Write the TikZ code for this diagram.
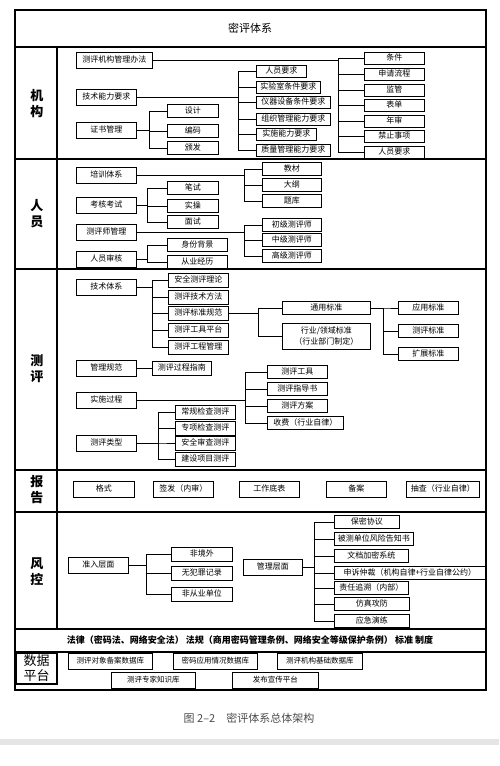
\documentclass[tikz,border=0pt]{standalone}
\usepackage{fontspec}
\setmainfont{Noto Sans CJK SC}
\tikzset{
    box/.style={draw,thick,align=center,inner sep=1pt,text height=6.5pt,text depth=1.5pt,minimum height=13,font=\fontsize{8}{10}\selectfont},
    head/.style={box,anchor=west,minimum width=60,minimum height=16},
    leaf/.style={box,anchor=west},
    side/.style={align=center,font=\fontsize{13}{16}\selectfont\bfseries},
    link/.style={thick},
    frame/.style={line width=1.2pt}
}
\begin{document}
\begin{tikzpicture}[x=1pt,y=-1pt]
    \useasboundingbox (0,0) rectangle (499,766);
    \draw[frame] (15,10) rectangle (486,690);
    \draw[frame] (15,47)--(486,47) (15,159)--(486,159) (15,269)--(486,269) (15,470)--(486,470)
        (15,512)--(486,512) (15,629)--(486,629) (15,652)--(486,652);
    \draw[frame] (57,47)--(57,629);
    \node[font=\fontsize{11}{13}\selectfont] (title) at (250,28) {密评体系};

    \node[side] (jigou) at (37,104) {机\\构};
    \node[side] (renyuan) at (37,214) {人\\员};
    \node[side] (ceping) at (37,369) {测\\评};
    \node[side] (baogao) at (37,490) {报\\告};
    \node[side] (fengkong) at (37,572) {风\\控};

    \node[head,minimum width=76] (banfa) at (76,60) {测评机构管理办法};
    \node[head] (nengli) at (76,97) {技术能力要求};
    \node[head] (zhengshu) at (76,130) {证书管理};
    \node[leaf,minimum width=51] (sheji) at (167,111) {设计};
    \node[leaf,minimum width=51] (bianma) at (167,131) {编码};
    \node[leaf,minimum width=51] (banfa2) at (167,148) {颁发};
    \node[leaf,minimum width=50,minimum height=12] (renyuanyq) at (256,71) {人员要求};
    \node[leaf,minimum width=64,minimum height=12] (shiyanshi) at (256,87) {实验室条件要求};
    \node[leaf,minimum width=74,minimum height=12] (yiqi) at (256,102) {仪器设备条件要求};
    \node[leaf,minimum width=74,minimum height=12] (zuzhi) at (256,119) {组织管理能力要求};
    \node[leaf,minimum width=60,minimum height=12] (shishi) at (256,134) {实施能力要求};
    \node[leaf,minimum width=74,minimum height=12] (zhiliang) at (256,150) {质量管理能力要求};
    \node[leaf,minimum width=60,minimum height=12] (tiaojian) at (364,58) {条件};
    \node[leaf,minimum width=60,minimum height=12] (liucheng) at (364,74) {申请流程};
    \node[leaf,minimum width=60,minimum height=12] (jianguan) at (364,90) {监管};
    \node[leaf,minimum width=60,minimum height=12] (biaodan) at (364,105) {表单};
    \node[leaf,minimum width=60,minimum height=12] (nianshen) at (364,121) {年审};
    \node[leaf,minimum width=60,minimum height=12] (jinzhi) at (364,136) {禁止事项};
    \node[leaf,minimum width=60,minimum height=12] (renyuan2) at (364,152) {人员要求};
    \draw[link] (banfa.east) -- ++(186,0) |- (tiaojian.west);
    \draw[link] (banfa.east) -- ++(186,0) |- (liucheng.west);
    \draw[link] (banfa.east) -- ++(186,0) |- (jianguan.west);
    \draw[link] (banfa.east) -- ++(186,0) |- (biaodan.west);
    \draw[link] (banfa.east) -- ++(186,0) |- (nianshen.west);
    \draw[link] (banfa.east) -- ++(186,0) |- (jinzhi.west);
    \draw[link] (banfa.east) -- ++(186,0) |- (renyuan2.west);
    \draw[link] (nengli.east) -- ++(102,0) |- (renyuanyq.west);
    \draw[link] (nengli.east) -- ++(102,0) |- (shiyanshi.west);
    \draw[link] (nengli.east) -- ++(102,0) |- (yiqi.west);
    \draw[link] (nengli.east) -- ++(102,0) |- (zuzhi.west);
    \draw[link] (nengli.east) -- ++(102,0) |- (shishi.west);
    \draw[link] (nengli.east) -- ++(102,0) |- (zhiliang.west);
    \draw[link] (zhengshu.east) -- ++(13,0) |- (sheji.west);
    \draw[link] (zhengshu.east) -- ++(13,0) |- (bianma.west);
    \draw[link] (zhengshu.east) -- ++(13,0) |- (banfa2.west);

    \node[head] (peixun) at (76,175) {培训体系};
    \node[head] (kaohe) at (76,205) {考核考试};
    \node[head] (cpsgl) at (76,232) {测评师管理};
    \node[head] (shenhe) at (76,259) {人员审核};
    \node[leaf,minimum width=59] (jiaocai) at (262,169) {教材};
    \node[leaf,minimum width=59] (dagang) at (262,185) {大纲};
    \node[leaf,minimum width=59] (tiku) at (262,201) {题库};
    \node[leaf,minimum width=51] (bishi) at (167,188) {笔试};
    \node[leaf,minimum width=51] (shicao) at (167,206) {实操};
    \node[leaf,minimum width=51] (mianshi) at (167,222) {面试};
    \node[leaf,minimum width=59] (chuji) at (262,225) {初级测评师};
    \node[leaf,minimum width=59] (zhongji) at (262,240) {中级测评师};
    \node[leaf,minimum width=59] (gaoji) at (262,256) {高级测评师};
    \node[leaf,minimum width=60] (shenfen) at (167,245) {身份背景};
    \node[leaf,minimum width=60] (jingli) at (167,262) {从业经历};
    \draw[link] (peixun.east) -- ++(108,0) |- (jiaocai.west);
    \draw[link] (peixun.east) -- ++(108,0) |- (dagang.west);
    \draw[link] (peixun.east) -- ++(108,0) |- (tiku.west);
    \draw[link] (kaohe.east) -- ++(11,0) |- (bishi.west);
    \draw[link] (kaohe.east) -- ++(11,0) |- (shicao.west);
    \draw[link] (kaohe.east) -- ++(11,0) |- (mianshi.west);
    \draw[link] (cpsgl.east) -- ++(108,0) |- (chuji.west);
    \draw[link] (cpsgl.east) -- ++(108,0) |- (zhongji.west);
    \draw[link] (cpsgl.east) -- ++(108,0) |- (gaoji.west);
    \draw[link] (shenhe.east) -- ++(11,0) |- (shenfen.west);
    \draw[link] (shenhe.east) -- ++(11,0) |- (jingli.west);

    \node[head] (jishu) at (76,287) {技术体系};
    \node[head] (guifan) at (76,368) {管理规范};
    \node[head] (guocheng) at (76,400) {实施过程};
    \node[head] (leixing) at (76,443) {测评类型};
    \node[leaf,minimum width=60,minimum height=14] (lilun) at (168,280) {安全测评理论};
    \node[leaf,minimum width=60,minimum height=14] (fangfa) at (168,297) {测评技术方法};
    \node[leaf,minimum width=60,minimum height=14] (biaozhun) at (168,313) {测评标准规范};
    \node[leaf,minimum width=60,minimum height=14] (pingtai) at (168,330) {测评工具平台};
    \node[leaf,minimum width=60,minimum height=14] (gongcheng) at (168,347) {测评工程管理};
    \node[leaf,minimum width=88] (tongyong) at (282,308) {通用标准};
    \node[leaf,minimum width=88,minimum height=26,text height=,text depth=,font=\fontsize{8}{11}\selectfont] (hangye) at (282,336) {行业/领域标准\\（行业部门制定）};
    \node[leaf,minimum width=60] (yingyong) at (398,308) {应用标准};
    \node[leaf,minimum width=60] (cepingbz) at (398,331) {测评标准};
    \node[leaf,minimum width=60] (kuozhan) at (398,354) {扩展标准};
    \node[leaf,minimum width=59,minimum height=14] (zhinan) at (152,368) {测评过程指南};
    \node[leaf,minimum width=60] (gongju) at (267,372) {测评工具};
    \node[leaf,minimum width=60] (zhidao) at (267,389) {测评指导书};
    \node[leaf,minimum width=60] (fangan) at (267,406) {测评方案};
    \node[leaf,minimum width=76] (shoufei) at (267,423) {收费（行业自律）};
    \node[leaf,minimum width=60,minimum height=14] (changgui) at (175,412) {常规检查测评};
    \node[leaf,minimum width=60,minimum height=14] (zhuanxiang) at (175,428) {专项检查测评};
    \node[leaf,minimum width=60,minimum height=14] (shencha) at (175,443) {安全审查测评};
    \node[leaf,minimum width=60,minimum height=14] (jianshe) at (175,459) {建设项目测评};
    \draw[link] (jishu.east) -- ++(16,0) |- (lilun.west);
    \draw[link] (jishu.east) -- ++(16,0) |- (fangfa.west);
    \draw[link] (jishu.east) -- ++(16,0) |- (biaozhun.west);
    \draw[link] (jishu.east) -- ++(16,0) |- (pingtai.west);
    \draw[link] (jishu.east) -- ++(16,0) |- (gongcheng.west);
    \draw[link] (biaozhun.east) -- ++(30,0) |- (tongyong.west);
    \draw[link] (biaozhun.east) -- ++(30,0) |- (hangye.west);
    \draw[link] (tongyong.east) -- ++(13,0) |- (yingyong.west);
    \draw[link] (tongyong.east) -- ++(13,0) |- (cepingbz.west);
    \draw[link] (tongyong.east) -- ++(13,0) |- (kuozhan.west);
    \draw[link] (guifan.east) -- (zhinan.west);
    \draw[link] (guocheng.east) -- ++(109,0) |- (gongju.west);
    \draw[link] (guocheng.east) -- ++(109,0) |- (zhidao.west);
    \draw[link] (guocheng.east) -- ++(109,0) |- (fangan.west);
    \draw[link] (guocheng.east) -- ++(109,0) |- (shoufei.west);
    \draw[link] (leixing.east) -- ++(22,0) |- (changgui.west);
    \draw[link] (leixing.east) -- ++(22,0) |- (zhuanxiang.west);
    \draw[link] (leixing.east) -- ++(22,0) |- (shencha.west);
    \draw[link] (leixing.east) -- ++(22,0) |- (jianshe.west);

    \node[head,minimum width=61] (geshi) at (73,489) {格式};
    \node[head] (qianfa) at (153,489) {签发（内审）};
    \node[head] (dibiao) at (239,489) {工作底表};
    \node[head] (beian) at (326,489) {备案};
    \node[head,minimum width=73] (chouzha) at (406,489) {抽查（行业自律）};

    \node[head] (zhunru) at (68,565) {准入层面};
    \node[leaf,minimum width=61,minimum height=14] (jingwai) at (171,554) {非境外};
    \node[leaf,minimum width=61,minimum height=14] (fanzui) at (171,573) {无犯罪记录};
    \node[leaf,minimum width=61,minimum height=14] (congye) at (171,594) {非从业单位};
    \node[head,minimum width=59] (guanlicm) at (243,567) {管理层面};
    \node[leaf,minimum width=65] (baomi) at (334,522) {保密协议};
    \node[leaf,minimum width=79] (gaozhi) at (334,539) {被测单位风险告知书};
    \node[leaf,minimum width=74] (jiami) at (334,556) {文档加密系统};
    \node[leaf,minimum width=151] (zhongcai) at (334,573) {申诉仲裁（机构自律+行业自律公约）};
    \node[leaf,minimum width=74] (zhuisu) at (334,588) {责任追溯（内部）};
    \node[leaf,minimum width=75] (gongfang) at (334,604) {仿真攻防};
    \node[leaf,minimum width=75] (yanlian) at (334,621) {应急演练};
    \draw[link] (zhunru.east) -- ++(18,0) |- (jingwai.west);
    \draw[link] (zhunru.east) -- ++(18,0) |- (fanzui.west);
    \draw[link] (zhunru.east) -- ++(18,0) |- (congye.west);
    \draw[link] (guanlicm.east) -- ++(12,0) |- (baomi.west);
    \draw[link] (guanlicm.east) -- ++(12,0) |- (gaozhi.west);
    \draw[link] (guanlicm.east) -- ++(12,0) |- (jiami.west);
    \draw[link] (guanlicm.east) -- ++(12,0) |- (zhongcai.west);
    \draw[link] (guanlicm.east) -- ++(12,0) |- (zhuisu.west);
    \draw[link] (guanlicm.east) -- ++(12,0) |- (gongfang.west);
    \draw[link] (guanlicm.east) -- ++(12,0) |- (yanlian.west);

    \node[font=\fontsize{9}{11}\selectfont\bfseries] (falv) at (250,640)
        {法律（密码法、网络安全法）\ 法规（商用密码管理条例、网络安全等级保护条例）\ 标准\ 制度};

    \node[draw,line width=1.2pt,minimum width=41,minimum height=31,inner sep=0pt,align=center,
        font=\fontsize{13}{15}\selectfont] (shuju) at (36.5,668.5) {数据\\平台};
    \node[head,minimum width=84,font=\fontsize{7.5}{9}\selectfont] (duixiang) at (68,661) {测评对象备案数据库};
    \node[head,minimum width=84,font=\fontsize{7.5}{9}\selectfont] (yingyongk) at (173,661) {密码应用情况数据库};
    \node[head,minimum width=85,font=\fontsize{7.5}{9}\selectfont] (jichu) at (277,661) {测评机构基础数据库};
    \node[head,minimum width=84,font=\fontsize{7.5}{9}\selectfont] (zhuanjia) at (111,680) {测评专家知识库};
    \node[head,minimum width=86,font=\fontsize{7.5}{9}\selectfont] (xuanchuan) at (232,680) {发布宣传平台};

    \fill[gray!20] (0,739) rectangle (499,745);
    \node[text=black!70,font=\fontsize{11}{13}\selectfont] (caption) at (249,718) {图 2–2\quad 密评体系总体架构};
\end{tikzpicture}
\end{document}
